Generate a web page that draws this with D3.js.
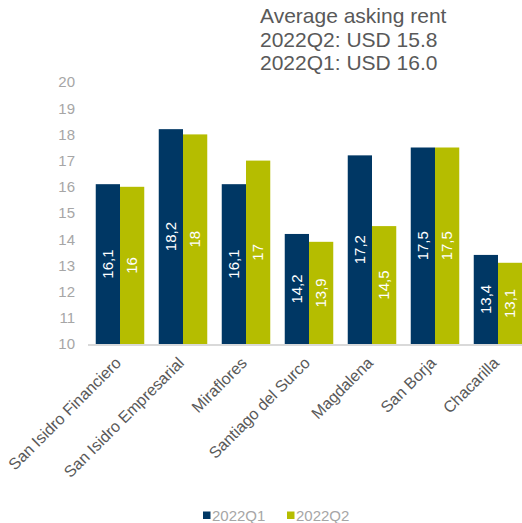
<!DOCTYPE html>
<html>
<head>
<meta charset="utf-8">
<script src="https://cdn.jsdelivr.net/npm/d3@7"></script>
<style>
  body { margin: 0; background: #fff; }
  svg { display: block; font-family: Arial, "Liberation Sans", sans-serif; }
</style>
</head>
<body>
<div id="chart"></div>
<script>
// data
var categories = ["San Isidro Financiero", "San Isidro Empresarial", "Miraflores",
  "Santiago del Surco", "Magdalena", "San Borja", "Chacarilla"];
var series = ["2022Q1", "2022Q2"];
var q1Values = [16.1, 18.2, 16.1, 14.2, 17.2, 17.5, 13.4];
var q2Values = [16.0, 18.0, 17.0, 13.9, 14.5, 17.5, 13.1];
var valueLabelsQ1 = ["16,1", "18,2", "16,1", "14,2", "17,2", "17,5", "13,4"];
var valueLabelsQ2 = ["16", "18", "17", "13,9", "14,5", "17,5", "13,1"];
var yTicks = [10, 11, 12, 13, 14, 15, 16, 17, 18, 19, 20];
var titleLines = ["Average asking rent", "2022Q2: USD 15.8", "2022Q1: USD 16.0"];

var colors = { "2022Q1": "#003764", "2022Q2": "#b5bd00" };

var width = 522;
var height = 523;

var svg = d3.select("#chart")
  .append("svg")
  .attr("width", width)
  .attr("height", height);

// build rows for the bars
var rows = categories.map(function (c, i) {
  return {
    cat: c,
    vals: [
      { key: "2022Q1", v: q1Values[i], label: valueLabelsQ1[i] },
      { key: "2022Q2", v: q2Values[i], label: valueLabelsQ2[i] }
    ]
  };
});

var x0 = d3.scaleBand()
  .domain(categories)
  .range([88.5, 529.5])
  .paddingInner(0.23)
  .paddingOuter(0.115);

var x1 = d3.scaleBand()
  .domain(series)
  .range([0, x0.bandwidth()]);

var y = d3.scaleLinear()
  .domain([10, 20])
  .range([344, 82]);

// title block top right
svg.append("g")
  .selectAll("text")
  .data(titleLines)
  .enter()
  .append("text")
  .attr("x", 260)
  .attr("y", function (d, i) { return 23 + i * 23.5; })
  .attr("font-size", 21)
  .attr("fill", "#595959")
  .text(function (d) { return d; });

// y axis labels (no line, no ticks)
var yAxis = d3.axisLeft(y).tickValues(yTicks).tickSize(0).tickPadding(0);
var gy = svg.append("g")
  .attr("transform", "translate(75,0)")
  .call(yAxis);
gy.select(".domain").remove();
gy.selectAll("text")
  .attr("font-size", 15)
  .attr("font-family", "Arial, 'Liberation Sans', sans-serif")
  .attr("fill", "#a6a6a6");

// bars
var groups = svg.append("g")
  .selectAll("g")
  .data(rows)
  .enter()
  .append("g")
  .attr("transform", function (d) { return "translate(" + x0(d.cat) + ",0)"; });

groups.selectAll("rect")
  .data(function (d) { return d.vals; })
  .enter()
  .append("rect")
  .attr("x", function (d) { return x1(d.key); })
  .attr("y", function (d) { return y(d.v); })
  .attr("width", x1.bandwidth())
  .attr("height", function (d) { return y(10) - y(d.v); })
  .attr("fill", function (d) { return colors[d.key]; });

// value labels, rotated, centred on the visible bar
groups.selectAll("text.val")
  .data(function (d) { return d.vals; })
  .enter()
  .append("text")
  .attr("class", "val")
  .attr("transform", function (d) {
    var cx = x1(d.key) + x1.bandwidth() / 2;
    var cy = (y(d.v) + y(10)) / 2;
    return "translate(" + cx + "," + cy + ")rotate(-90)";
  })
  .attr("text-anchor", "middle")
  .attr("dy", "0.35em")
  .attr("font-size", 15)
  .attr("fill", "#ffffff")
  .text(function (d) { return d.label; });

// x axis line
svg.append("line")
  .attr("x1", 88)
  .attr("x2", width)
  .attr("y1", 345)
  .attr("y2", 345)
  .attr("stroke", "#d9d9d9")
  .attr("stroke-width", 2);

// category labels at -45 degrees
svg.append("g")
  .selectAll("text")
  .data(categories)
  .enter()
  .append("text")
  .attr("transform", function (d) {
    var cx = x0(d) + x0.bandwidth() / 2 + 2;
    return "translate(" + cx + ",364)rotate(-45)";
  })
  .attr("text-anchor", "end")
  .attr("font-size", 16)
  .attr("fill", "#595959")
  .text(function (d) { return d; });

// legend
var legend = svg.append("g");
var legendX = [203, 287];
series.forEach(function (s, i) {
  legend.append("rect")
    .attr("x", legendX[i])
    .attr("y", 511.5)
    .attr("width", 7.5)
    .attr("height", 7.5)
    .attr("fill", colors[s]);
  legend.append("text")
    .attr("x", legendX[i] + 9)
    .attr("y", 520.5)
    .attr("font-size", 15)
    .attr("fill", "#a6a6a6")
    .text(s);
});
</script>
</body>
</html>
